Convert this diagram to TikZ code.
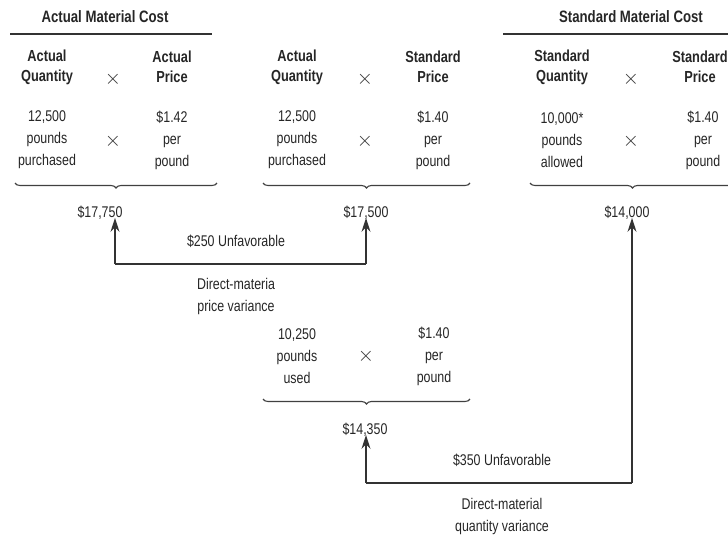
\documentclass[tikz,border=0pt]{standalone}
\usepackage{fontspec}
\setmainfont{Liberation Sans}[FakeStretch=0.8]
\usetikzlibrary{arrows.meta,decorations.pathreplacing}
\begin{document}
\begin{tikzpicture}[x=1pt,y=-1pt,
  txt/.style={font=\fontsize{15.5}{22}\selectfont, text=black!85, align=center, inner sep=1pt},
  tms/.style={font=\fontsize{21}{22}\selectfont, text=black!80, inner sep=1pt},
  hd/.style={font=\fontsize{16}{20}\selectfont\bfseries, text=black!85, align=center, inner sep=1pt},
  ttl/.style={font=\fontsize{16.5}{18}\selectfont\bfseries, text=black!85, inner sep=1pt},
  brc/.style={decorate, decoration={brace, mirror, amplitude=5pt}, line width=1.1pt, draw=black!75},
  rule/.style={line width=1.8pt, draw=black!80},
  conn/.style={line width=1.4pt, draw=black!80},
  arr/.style={conn, -{Stealth[length=14pt,width=9pt]}}]
\useasboundingbox (0,0) rectangle (728,536);
\clip (0,0) rectangle (728,536);
% titles
\node[ttl] (t1) at (105,17) {Actual Material Cost};
\node[ttl] (t3) at (631,17) {Standard Material Cost};
\coordinate (r1a) at (10,34); \coordinate (r1b) at (212,34);
\coordinate (r3a) at (503,34); \coordinate (r3b) at (740,34);
\draw[rule] (r1a) -- (r1b);
\draw[rule] (r3a) -- (r3b);
% headers
\node[hd] (h1a) at (47,67) {Actual\\Quantity};
\node[tms] (h1x) at (113,79) {$\times$};
\node[hd] (h1b) at (172,67) {Actual\\Price};
\node[hd] (h2a) at (297,67) {Actual\\Quantity};
\node[tms] (h2x) at (365,79) {$\times$};
\node[hd] (h2b) at (433,67) {Standard\\Price};
\node[hd] (h3a) at (562,67) {Standard\\Quantity};
\node[tms] (h3x) at (631,79) {$\times$};
\node[hd] (h3b) at (700,67) {Standard\\Price};
% values
\node[txt] (v1a) at (47,140) {12,500\\pounds\\purchased};
\node[tms] (v1x) at (113,141) {$\times$};
\node[txt] (v1b) at (172,140) {\$1.42\\per\\pound};
\node[txt] (v2a) at (297,140) {12,500\\pounds\\purchased};
\node[tms] (v2x) at (365,141) {$\times$};
\node[txt] (v2b) at (433,140) {\$1.40\\per\\pound};
\node[txt] (v3a) at (562,140) {10,000*\\pounds\\allowed};
\node[tms] (v3x) at (631,141) {$\times$};
\node[txt] (v3b) at (703,140) {\$1.40\\per\\pound};
\node[txt] (v4a) at (297,356) {10,250\\pounds\\used};
\node[tms] (v4x) at (366,356) {$\times$};
\node[txt] (v4b) at (434,356) {\$1.40\\per\\pound};
% braces
\coordinate (b1a) at (15,183); \coordinate (b1b) at (217,183);
\coordinate (b2a) at (263,183); \coordinate (b2b) at (470,183);
\coordinate (b3a) at (530,183); \coordinate (b3b) at (735,183);
\coordinate (b4a) at (263,399); \coordinate (b4b) at (470,399);
\draw[brc] (b1a) -- (b1b);
\draw[brc] (b2a) -- (b2b);
\draw[brc] (b3a) -- (b3b);
\draw[brc] (b4a) -- (b4b);
% totals
\node[txt] (s1) at (100,213) {\$17,750};
\node[txt] (s2) at (366,213) {\$17,500};
\node[txt] (s3) at (627,213) {\$14,000};
\node[txt] (s4) at (365,430) {\$14,350};
% price variance
\coordinate (p1) at (115,264);
\coordinate (p2) at (366,264);
\draw[arr] (p1) -- ([yshift=3pt]p1 |- s1.south);
\draw[conn] (p1) -- (p2);
\draw[arr] (p2) -- ([yshift=3pt]p2 |- s2.south);
\node[txt] (pv) at (236,241) {\$250 Unfavorable};
\node[txt] (pl) at (236,296) {Direct-materia\\price variance};
% quantity variance
\coordinate (q1) at (366,483);
\coordinate (q2) at (632,483);
\draw[arr] (q1) -- ([yshift=3pt]q1 |- s4.south);
\draw[conn] (q1) -- (q2);
\draw[arr] (q2) -- ([yshift=3pt]q2 |- s3.south);
\node[txt] (qv) at (502,460) {\$350 Unfavorable};
\node[txt] (ql) at (502,516) {Direct-material\\quantity variance};
\end{tikzpicture}
\end{document}
